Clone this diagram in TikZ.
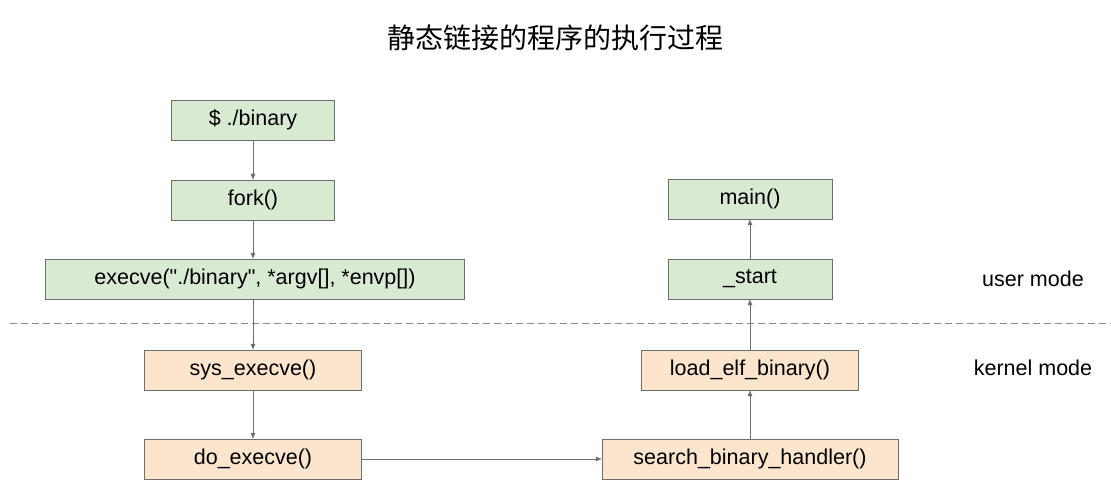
\documentclass[tikz,border=0pt]{standalone}
\usepackage{fontspec}
\setmainfont{Liberation Sans}[Ligatures=TeXOff]
\newfontfamily\cjk{Noto Sans CJK SC}
\usetikzlibrary{arrows.meta,positioning}
\definecolor{usergreen}{RGB}{217,234,211}
\definecolor{kernelorange}{RGB}{252,229,205}
\definecolor{linegray}{RGB}{110,110,110}
\newcommand{\dq}{\symbol{34}}
\begin{document}
\begin{tikzpicture}[
    x=1pt, y=-1pt,
    userbox/.style={rectangle, draw=linegray, fill=usergreen, minimum height=40pt, font=\fontsize{21.5}{23}\selectfont},
    kernbox/.style={rectangle, draw=linegray, fill=kernelorange, minimum height=40pt, font=\fontsize{21.5}{23}\selectfont},
    flow/.style={draw=linegray, -{Latex[length=6pt,width=5pt]}},
    modelabel/.style={font=\fontsize{21.5}{23}\selectfont}
]
\useasboundingbox (0,0) rectangle (1111,489);

% Title
\node[font=\cjk\fontsize{28}{30}\selectfont] (title) at (555,38) {静态链接的程序的执行过程};

% User mode
\node[userbox, minimum width=163pt] (shell) at (253,120) {\$ ./binary};
\node[userbox, minimum width=163pt] (fork) at (253,200) {fork()};
\node[userbox, minimum width=419pt] (execve) at (255,279) {execve(\dq./binary\dq, *argv[], *envp[])};
\node[userbox, minimum width=164pt] (main) at (750,199) {main()};
\node[userbox, minimum width=164pt] (start) at (750,279) {\_start};

% Kernel mode
\node[kernbox, minimum width=217pt] (sysexec) at (253,370) {sys\_execve()};
\node[kernbox, minimum width=217pt] (doexec) at (253,459) {do\_execve()};
\node[kernbox, minimum width=217pt] (loadelf) at (750,370) {load\_elf\_binary()};
\node[kernbox, minimum width=296pt] (search) at (750,459) {search\_binary\_handler()};

% Mode separator
\coordinate (sepl) at (10,323);
\coordinate (sepr) at (1111,323);
\draw[linegray!80, dash pattern=on 7pt off 4pt, thick] (sepl) -- (sepr);
\node[modelabel] (umode) at (1033,279) {user mode};
\node[modelabel] (kmode) at (1033,368) {kernel mode};

% Flow
\draw[flow] (shell) -- (fork);
\draw[flow] (fork) -- (fork |- execve.north);
\draw[flow] (execve.south -| sysexec) -- (sysexec);
\draw[flow] (sysexec) -- (doexec);
\draw[flow] (doexec) -- (search);
\draw[flow] (search) -- (loadelf);
\draw[flow] (loadelf) -- (start);
\draw[flow] (start) -- (main);

\end{tikzpicture}
\end{document}
